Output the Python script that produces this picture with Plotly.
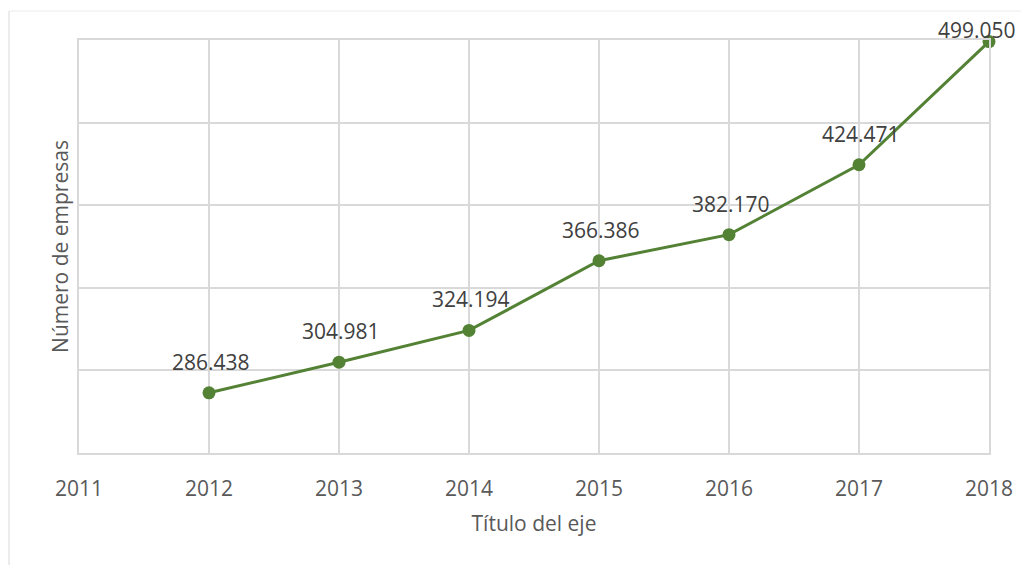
import plotly.graph_objects as go

years = [2012, 2013, 2014, 2015, 2016, 2017, 2018]
empresas = [286438, 304981, 324194, 366386, 382170, 424471, 499050]
tick_years = [2011, 2012, 2013, 2014, 2015, 2016, 2017, 2018]

def fmt(v):
    return f"{v:,}".replace(",", ".")

GREEN = "#548235"
GRID = "#d9d9d9"
FONT = "Open Sans"

fig = go.Figure()
fig.add_trace(go.Scatter(
    x=years, y=empresas, mode="lines+markers",
    line=dict(color=GREEN, width=3),
    marker=dict(color=GREEN, size=13),
    hoverinfo="skip", showlegend=False, cliponaxis=False,
))

for i, (x, y) in enumerate(zip(years, empresas)):
    last = i == len(years) - 1
    fig.add_annotation(
        x=x, y=y, text=fmt(y), showarrow=False,
        yshift=12 if last else 31, xshift=-12 if last else 2,
        font=dict(family=FONT, size=21, color="#404040"),
    )

fig.update_layout(
    width=1029, height=565,
    margin=dict(l=71, r=48, t=32, b=120),
    paper_bgcolor="white", plot_bgcolor="white",
    font=dict(family=FONT, color="#595959"),
    xaxis=dict(
        range=[2011, 2018], tickvals=tick_years, ticktext=[str(t) for t in tick_years],
        showgrid=True, gridcolor=GRID, gridwidth=1.5,
        showline=True, linecolor=GRID, linewidth=1.5, mirror=True,
        ticks="outside", ticklen=16, tickcolor="rgba(0,0,0,0)",
        tickfont=dict(family=FONT, size=21, color="#595959"),
        title=dict(text="Título del eje", font=dict(family=FONT, size=21, color="#595959"), standoff=15),
        zeroline=False,
    ),
    yaxis=dict(
        range=[250000, 500000], dtick=50000, tick0=0,
        showgrid=True, gridcolor=GRID, gridwidth=1.5,
        showline=True, linecolor=GRID, linewidth=1.5, mirror=True,
        showticklabels=False, ticks="",
        title=dict(text="Número de empresas", font=dict(family=FONT, size=21, color="#595959"), standoff=3),
        zeroline=False,
    ),
)

# outer chart border (left and top)
fig.add_shape(type="line", xref="paper", yref="paper",
              x0=-70/910, x1=-70/910, y0=(453-575)/413, y1=(453-11)/413,
              line=dict(color="#d9d9d9", width=1))
fig.add_shape(type="line", xref="paper", yref="paper",
              x0=-70/910, x1=(1040-79)/910, y0=(453-11)/413, y1=(453-11)/413,
              line=dict(color="#ececec", width=1))

fig.write_html("out.html")
